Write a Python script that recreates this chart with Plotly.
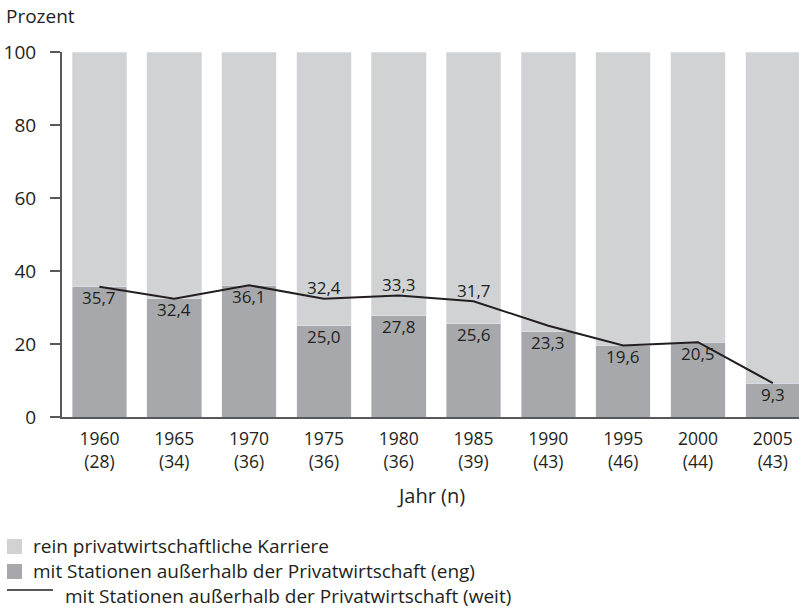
import plotly.graph_objects as go

years = ["1960", "1965", "1970", "1975", "1980", "1985", "1990", "1995", "2000", "2005"]
n_values = [28, 34, 36, 36, 36, 39, 43, 46, 44, 43]
eng = [35.7, 32.4, 36.1, 25.0, 27.8, 25.6, 23.3, 19.6, 20.5, 9.3]
weit = [35.7, 32.4, 36.1, 32.4, 33.3, 31.7, 25.0, 19.6, 20.5, 9.3]
weit_labels = ["", "", "", "32,4", "33,3", "31,7", "", "", "", ""]
y_ticks = [0, 20, 40, 60, 80, 100]

LIGHT = "#d1d2d4"
DARK = "#a7a8ab"
LINE = "#231f20"
AXIS = "#58595b"
TEXT = "#231f20"
FONT = "Open Sans"

x = list(range(len(years)))
rest = [round(100 - v, 1) for v in eng]
tick_text = [f"{y}<br>({n})" for y, n in zip(years, n_values)]

def de(v):
    return f"{v:.1f}".replace(".", ",")

fig = go.Figure()
fig.add_bar(x=x, y=eng, marker_color=DARK, width=0.73, showlegend=False,
            name="mit Stationen außerhalb der Privatwirtschaft (eng)")
fig.add_bar(x=x, y=rest, marker_color=LIGHT, width=0.73, showlegend=False,
            name="rein privatwirtschaftliche Karriere")
fig.add_scatter(x=x, y=weit, mode="lines", line=dict(color=LINE, width=2),
                showlegend=False,
                name="mit Stationen außerhalb der Privatwirtschaft (weit)")

W, H = 799, 611
# plot area in page pixels: x 62..799, y 52..417
L, R, T, B = 62, 0, 52, 611 - 417
pw, ph = W - L - R, H - T - B

def px(xp):
    return (xp - L) / pw

def py(yp):
    return (H - B - yp) / ph

annotations = []
for xi, v in zip(x, eng):
    annotations.append(dict(text=de(v), x=xi, y=v, xref="x", yref="y",
                            yshift=-11, xanchor="center", yanchor="middle",
                            showarrow=False,
                            font=dict(family=FONT, size=17, color=TEXT)))
for xi, v, t in zip(x, weit, weit_labels):
    if t:
        annotations.append(dict(text=t, x=xi, y=v, xref="x", yref="y",
                                yshift=11, xanchor="center", yanchor="middle",
                                showarrow=False,
                                font=dict(family=FONT, size=17, color=TEXT)))

shapes = [
    dict(type="rect", xref="paper", yref="paper",
         x0=px(7), x1=px(22), y0=py(554), y1=py(539),
         fillcolor=LIGHT, line=dict(width=0)),
    dict(type="rect", xref="paper", yref="paper",
         x0=px(7), x1=px(22), y0=py(579), y1=py(564),
         fillcolor=DARK, line=dict(width=0)),
    dict(type="line", xref="paper", yref="paper",
         x0=px(7), x1=px(53), y0=py(590), y1=py(590),
         line=dict(color=LINE, width=1.5)),
]

legend_items = [
    ("rein privatwirtschaftliche Karriere", 32, 546),
    ("mit Stationen außerhalb der Privatwirtschaft (eng)", 32, 571),
    ("mit Stationen außerhalb der Privatwirtschaft (weit)", 64, 596),
]
for t, xx, yy in legend_items:
    annotations.append(dict(text=t, xref="paper", yref="paper", x=px(xx), y=py(yy),
                            xanchor="left", yanchor="middle", showarrow=False,
                            borderpad=0,
                            font=dict(family=FONT, size=19, color=TEXT)))
annotations.append(dict(text="Prozent", xref="paper", yref="paper",
                        x=px(5), y=py(16), xanchor="left", yanchor="middle",
                        showarrow=False, borderpad=0,
                        font=dict(family=FONT, size=19, color=TEXT)))
annotations.append(dict(text="Jahr (n)", xref="paper", yref="paper",
                        x=px(431), y=py(496), xanchor="center", yanchor="middle",
                        showarrow=False,
                        font=dict(family=FONT, size=20, color=TEXT)))

fig.update_layout(
    width=W, height=H,
    margin=dict(l=L, r=R, t=T, b=B, pad=0),
    barmode="stack",
    plot_bgcolor="white", paper_bgcolor="white",
    font=dict(family=FONT, size=17, color=TEXT),
    shapes=shapes,
    annotations=annotations,
    showlegend=False,
)
fig.update_xaxes(range=[-0.5, 9.35], tickmode="array", tickvals=x,
                 ticktext=tick_text, showgrid=False, zeroline=False,
                 showline=True, linecolor=AXIS, linewidth=2, ticks="",
                 ticklabelstandoff=5,
                 tickfont=dict(family=FONT, size=17.5, color=TEXT))
fig.update_yaxes(range=[0, 100], tickmode="array", tickvals=y_ticks,
                 showgrid=False, zeroline=False, showline=True,
                 linecolor=AXIS, linewidth=2, ticks="outside", ticklen=10,
                 tickcolor=AXIS, tickwidth=1.5, ticklabelstandoff=10,
                 tickfont=dict(family=FONT, size=19, color=TEXT))

fig.write_html("out.html",
               config={"displayModeBar": False},
               post_script="document.body.style.margin='0px';"
                           "document.body.style.overflow='hidden';")
